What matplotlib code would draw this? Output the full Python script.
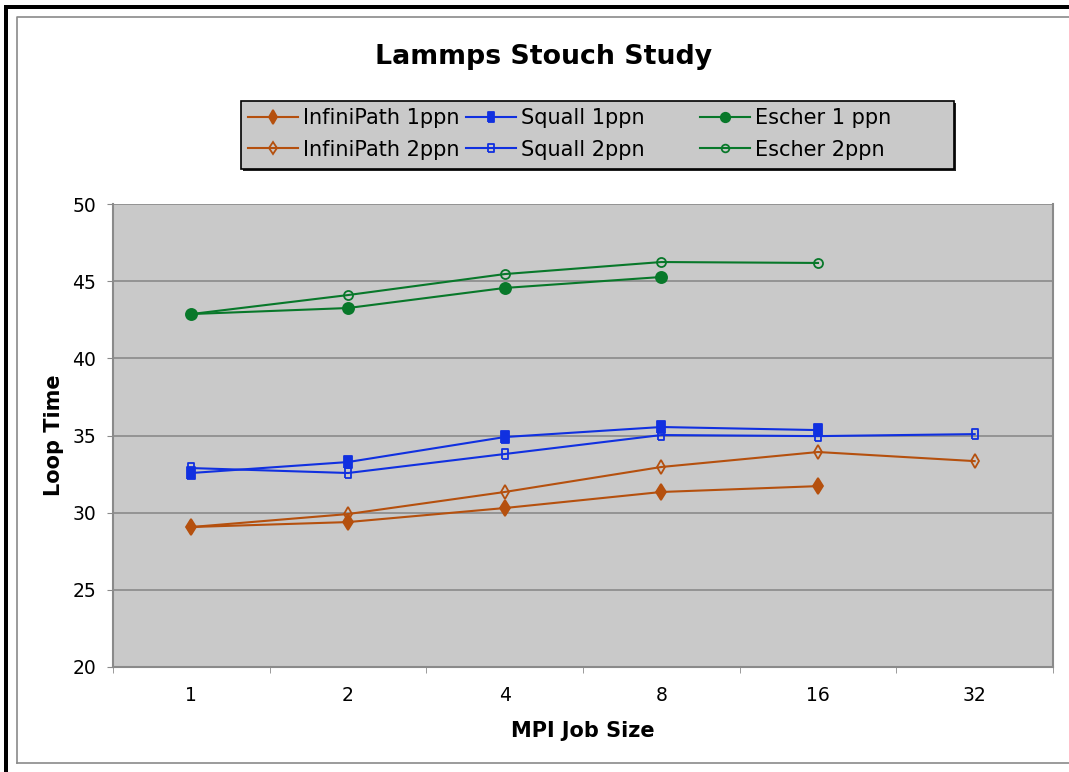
import matplotlib
matplotlib.use("Agg")
import matplotlib.pyplot as plt
from matplotlib.lines import Line2D
from matplotlib.patches import Rectangle

categories = ["1", "2", "4", "8", "16", "32"]
infinipath_1ppn = [29.07, 29.39, 30.30, 31.34, 31.72]
infinipath_2ppn = [29.07, 29.91, 31.34, 32.96, 33.93, 33.34]
squall_1ppn = [32.57, 33.28, 34.90, 35.55, 35.35]
squall_2ppn = [32.89, 32.57, 33.80, 35.03, 34.96, 35.09]
escher_1ppn = [42.87, 43.26, 44.56, 45.27]
escher_2ppn = [42.87, 44.10, 45.46, 46.24, 46.18]
y_ticks = [20, 25, 30, 35, 40, 45, 50]

c_orange = "#B5500E"
c_blue = "#1030E0"
c_green = "#08782A"

plt.rcParams['font.family'] = ['DejaVu Sans']
W, H = 1069, 772
fig = plt.figure(figsize=(W / 100, H / 100), dpi=100)
fig.patch.set_facecolor("white")

# outer frame
fig.add_artist(Rectangle((4 / W, 0), 4 / W, 1 - 5 / H, transform=fig.transFigure,
                         facecolor="black", edgecolor="none"))
fig.add_artist(Rectangle((4 / W, 1 - 9 / H), 1, 4 / H, transform=fig.transFigure,
                         facecolor="black", edgecolor="none"))
fig.add_artist(Line2D([17 / W, 17 / W, 1.01], [1 - 763 / H, 1 - 17 / H, 1 - 17 / H],
                      transform=fig.transFigure, color="#8a8a8a", lw=1.2))
fig.add_artist(Line2D([17 / W, 1.01], [1 - 763 / H, 1 - 763 / H],
                      transform=fig.transFigure, color="#8a8a8a", lw=1.2))

left, right, top, bottom = 113 / W, 1053 / W, 1 - 204 / H, 1 - 667 / H
ax = fig.add_axes([left, bottom, right - left, top - bottom])
ax.set_facecolor("#C9C9C9")

tall_rect = [(-0.6, -1), (0.6, -1), (0.6, 1), (-0.6, 1), (-0.6, -1)]

x = list(range(len(categories)))
series = [
    (infinipath_1ppn, c_orange, "d", True, "InfiniPath 1ppn", 8.5),
    (infinipath_2ppn, c_orange, "d", False, "InfiniPath 2ppn", 7.5),
    (squall_1ppn, c_blue, tall_rect, True, "Squall 1ppn", 9),
    (squall_2ppn, c_blue, tall_rect, False, "Squall 2ppn", 7.5),
    (escher_1ppn, c_green, "o", True, "Escher 1 ppn", 8),
    (escher_2ppn, c_green, "o", False, "Escher 2ppn", 6.5),
]
handles = []
for vals, col, mk, filled, lab, ms in series:
    h, = ax.plot(x[:len(vals)], vals, color=col, lw=1.5, marker=mk, markersize=ms,
                 markerfacecolor=col if filled else "none", markeredgecolor=col,
                 markeredgewidth=1.3, label=lab, zorder=3)
    handles.append(h)

ax.set_xlim(-0.5, len(categories) - 0.5)
ax.set_ylim(20, 50)
ax.set_yticks(y_ticks)
ax.yaxis.grid(True, color="#8a8a8a", lw=1.2)
ax.set_axisbelow(True)
ax.set_xticks(x)
ax.set_xticklabels(categories)
ax.set_xticks([i + 0.5 for i in range(-1, len(categories))], minor=True)
ax.tick_params(axis="x", which="major", length=0, pad=14, labelsize=13.5)
ax.tick_params(axis="x", which="minor", length=4, color="#8a8a8a", direction="out")
ax.tick_params(axis="y", length=4, color="#8a8a8a", pad=8, labelsize=13.5)
for s in ["left", "bottom", "right"]:
    ax.spines[s].set_color("#8a8a8a")
    ax.spines[s].set_linewidth(1.5)
ax.spines["top"].set_visible(False)

ax.set_xlabel("MPI Job Size", fontsize=15, fontweight="bold", labelpad=11)
ax.set_ylabel("Loop Time", fontsize=15, fontweight="bold", labelpad=6)

fig.text(544 / W, 1 - 57 / H, "Lammps Stouch Study", ha="center", va="center",
         fontsize=19.3, fontweight="bold")

# legend frame with shadow
lx0, lx1, ly0, ly1 = 241, 954, 101, 169
fig.add_artist(Rectangle(((lx0 + 2) / W, 1 - (ly1 + 2) / H), (lx1 - lx0) / W, (ly1 - ly0) / H,
                         transform=fig.transFigure, facecolor="#222222", edgecolor="none"))
fig.add_artist(Rectangle((lx0 / W, 1 - ly1 / H), (lx1 - lx0) / W, (ly1 - ly0) / H,
                         transform=fig.transFigure, facecolor="#C9C9C9", edgecolor="black", lw=1.2))

col_x = [248, 466, 700]
for ci in range(3):
    hs = [handles[2 * ci], handles[2 * ci + 1]]
    leg = fig.legend(hs, [h.get_label() for h in hs], loc="center left",
                     bbox_to_anchor=(col_x[ci] / W, 1 - 134 / H), frameon=False,
                     fontsize=15, handlelength=2.4, handletextpad=0.25,
                     labelspacing=0.55, borderpad=0, borderaxespad=0, markerscale=0.85)

fig.savefig("out.png", dpi=100)
